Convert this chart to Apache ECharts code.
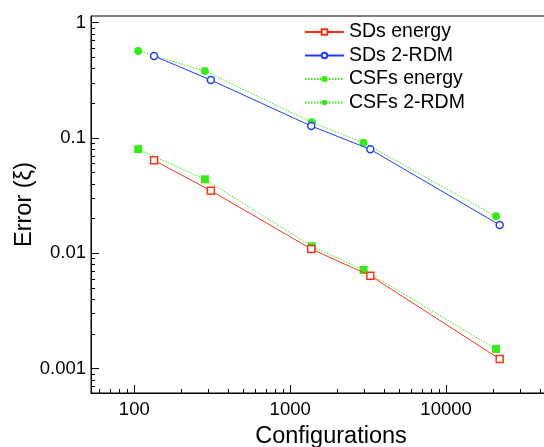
<!DOCTYPE html>
<html><head><meta charset="utf-8">
<script src="https://cdn.jsdelivr.net/npm/echarts@6/dist/echarts.min.js"></script>
<style>html,body{margin:0;padding:0;background:#fff}#c{width:544px;height:447px}</style>
</head><body><div id="c"></div>
<script>
// ---- data ----
const sdConfigs  = [134, 310, 1365, 3266, 22070];
const csfConfigs = [106, 284, 1375, 2957, 20900];
const sdEnergy   = [0.064, 0.0349, 0.0109, 0.0064, 0.00121];
const sdRDM      = [0.514, 0.318, 0.127, 0.0797, 0.0176];
const csfEnergy  = [0.080, 0.0438, 0.0115, 0.00716, 0.00148];
const csfRDM     = [0.568, 0.381, 0.137, 0.091, 0.0209];
const seriesNames = ['SDs energy', 'SDs 2-RDM', 'CSFs energy', 'CSFs 2-RDM'];
const xMajor = [100, 1000, 10000];
const yMajor = [0.001, 0.01, 0.1, 1];
const xTitle = 'Configurations';
const yTitle = 'Error (ξ)';

function minorList(lo, hi) {
  const out = [];
  for (let e = -5; e <= 6; e++) {
    for (let m = 2; m <= 9; m++) {
      const v = m * Math.pow(10, e);
      if (v > lo && v < hi) out.push(v);
    }
  }
  return out;
}
const X_MIN = 52.77, X_MAX = 63270, Y_MIN = 0.000614, Y_MAX = 1.143;
const xMinor = minorList(X_MIN, X_MAX);
const yMinor = minorList(Y_MIN, Y_MAX);

const FONT = "'Liberation Sans', Arial, Helvetica, sans-serif";
const RED = '#ff3311', BLUE = '#1f3cff', GREEN = '#33ee11';
const LABEL_SIZE = 18.5;

const pair = (xs, ys) => xs.map((x, i) => [x, ys[i]]);

const chart = echarts.init(document.getElementById('c'), null, {renderer: 'canvas'});
chart.setOption({
  animation: false,
  backgroundColor: '#fff',
  textStyle: {fontFamily: FONT},
  grid: {left: 91, top: 16, width: 480, height: 377, outerBoundsMode: 'none', containLabel: false,
         show: true, borderColor: '#000', borderWidth: 1, backgroundColor: 'transparent'},
  legend: {
    orient: 'vertical', left: 304, top: 22, itemWidth: 39, itemHeight: 7, itemGap: 3.5, padding: 0,
    textStyle: {fontFamily: FONT, fontSize: 19.5, color: '#000'},
    data: seriesNames
  },
  xAxis: [{
    type: 'log', min: X_MIN, max: X_MAX, position: 'bottom',
    name: xTitle, nameLocation: 'middle', nameGap: 32, nameMoveOverlap: false,
    nameTextStyle: {fontFamily: FONT, fontSize: 23.5, color: '#000'},
    axisLine: {show: true, lineStyle: {color: '#000', width: 1}},
    axisTick: {show: true, inside: true, length: 8, customValues: xMajor, lineStyle: {color: '#000'}},
    axisLabel: {show: true, customValues: xMajor, margin: 7, color: '#000', fontSize: LABEL_SIZE, fontFamily: FONT, formatter: v => String(v)},
    splitLine: {show: false}, minorTick: {show: false}
  }, {
    type: 'log', min: X_MIN, max: X_MAX, position: 'bottom', gridIndex: 0,
    axisLine: {show: false},
    axisTick: {show: true, inside: true, length: 4, customValues: xMinor, lineStyle: {color: '#000'}},
    axisLabel: {show: false}, splitLine: {show: false}
  }],
  yAxis: [{
    type: 'log', min: Y_MIN, max: Y_MAX, position: 'left',
    name: yTitle, nameLocation: 'middle', nameGap: 54, nameRotate: 90, nameMoveOverlap: false,
    nameTextStyle: {fontFamily: FONT, fontSize: 23.5, color: '#000'},
    axisLine: {show: true, lineStyle: {color: '#000', width: 1}},
    axisTick: {show: true, inside: true, length: 8, customValues: yMajor, lineStyle: {color: '#000'}},
    axisLabel: {show: true, customValues: yMajor, margin: 5, color: '#000', fontSize: LABEL_SIZE, fontFamily: FONT, formatter: v => String(v)},
    splitLine: {show: false}
  }, {
    type: 'log', min: Y_MIN, max: Y_MAX, position: 'left', gridIndex: 0,
    axisLine: {show: false},
    axisTick: {show: true, inside: true, length: 4, customValues: yMinor, lineStyle: {color: '#000'}},
    axisLabel: {show: false}, splitLine: {show: false}
  }],
  series: [
    {name: seriesNames[0], type: 'line', data: pair(sdConfigs, sdEnergy), symbol: 'rect', symbolSize: 7,
     color: RED, lineStyle: {color: RED, width: 1}, itemStyle: {color: '#fff', borderColor: RED, borderWidth: 1.5}, z: 3},
    {name: seriesNames[1], type: 'line', data: pair(sdConfigs, sdRDM), symbol: 'circle', symbolSize: 7,
     color: BLUE, lineStyle: {color: BLUE, width: 1}, itemStyle: {color: '#fff', borderColor: BLUE, borderWidth: 1.5}, z: 3},
    {name: seriesNames[2], type: 'line', data: pair(csfConfigs, csfEnergy), symbol: 'rect', symbolSize: 8,
     color: GREEN, lineStyle: {color: GREEN, width: 1, type: [1.5, 1.5]}, itemStyle: {color: GREEN, borderWidth: 0}, z: 2},
    {name: seriesNames[3], type: 'line', data: pair(csfConfigs, csfRDM), symbol: 'circle', symbolSize: 8,
     color: GREEN, lineStyle: {color: GREEN, width: 1, type: [1.5, 1.5]}, itemStyle: {color: GREEN, borderWidth: 0}, z: 2}
  ]
});
</script></body></html>
